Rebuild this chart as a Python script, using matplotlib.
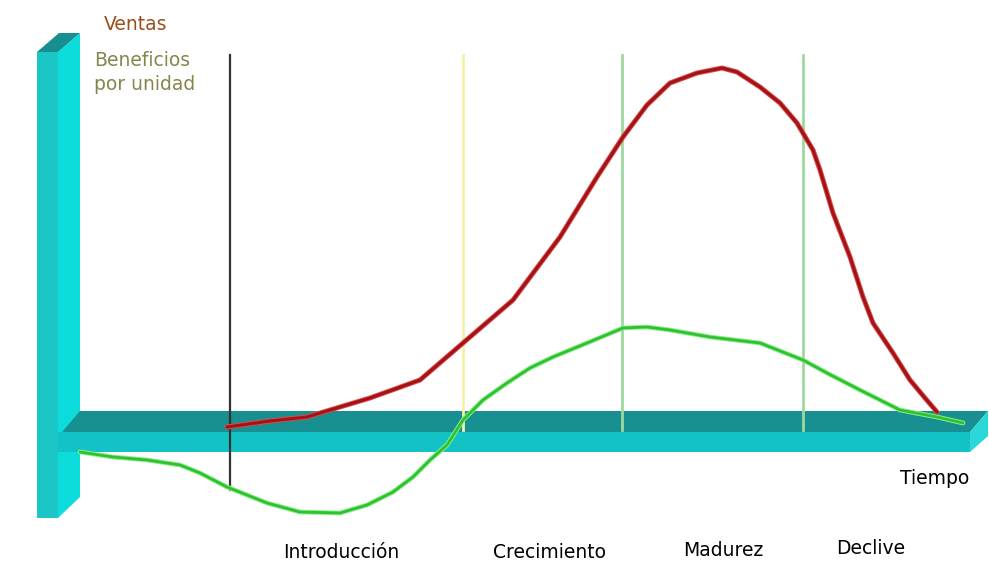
import matplotlib
matplotlib.use("Agg")
import matplotlib.pyplot as plt
from matplotlib.patches import Polygon
import matplotlib.patheffects as pe

plt.rcParams['font.family'] = ['DejaVu Sans']

# Curve data (time position, level) (screen units, y downward)
sales_t = [227, 270, 307, 330, 370, 420, 463, 513, 560, 597, 623, 647, 670, 697, 722, 737,
           760, 780, 797, 813, 820, 833, 850, 863, 873, 893, 910, 925, 937]
sales_v = [427, 421, 417, 410, 398, 380, 343, 300, 237, 177, 137, 105, 83, 73, 68, 72,
           87, 103, 123, 150, 170, 213, 257, 297, 323, 353, 380, 398, 412]

profit_t = [80, 113, 147, 180, 200, 227, 267, 300, 340, 367, 393, 413, 430, 447, 463, 483,
            507, 530, 553, 587, 623, 647, 670, 710, 760, 803, 827, 860, 900, 937, 963]
profit_v = [452, 457, 460, 465, 473, 487, 503, 512, 513, 505, 492, 477, 460, 445, 420, 400,
            383, 368, 357, 343, 328, 327, 330, 337, 343, 360, 373, 390, 410, 417, 423]

# Phase boundaries and labels
phase_bounds = [230, 463, 622, 803]
phase_colors = ['#333333', '#F2F2A8', '#9ED89E', '#9ED89E']
phase_labels = ['Introducción', 'Crecimiento', 'Madurez', 'Declive']
phase_label_x = [341, 549, 723, 871]
phase_label_y = [552, 552, 550, 548]

fig = plt.figure(figsize=(9.89, 5.72), dpi=100)
ax = fig.add_axes([0, 0, 1, 1])
ax.set_xlim(0, 989)
ax.set_ylim(572, 0)
ax.axis('off')

# Vertical 3D bar
ax.add_patch(Polygon([(37, 52), (58, 52), (58, 518), (37, 518)], closed=True,
                     facecolor='#1CC6C6', edgecolor='none', zorder=1))
ax.add_patch(Polygon([(58, 52), (80, 33), (80, 497), (58, 518)], closed=True,
                     facecolor='#0CDCDC', edgecolor='none', zorder=1))
ax.add_patch(Polygon([(37, 52), (58, 52), (80, 33), (59, 33)], closed=True,
                     facecolor='#178F8F', edgecolor='none', zorder=1))

# Horizontal 3D bar
ax.add_patch(Polygon([(62, 432), (970, 432), (988, 411), (80, 411)], closed=True,
                     facecolor='#188F91', edgecolor='none', zorder=2))
ax.add_patch(Polygon([(58, 432), (970, 432), (970, 452), (58, 452)], closed=True,
                     facecolor='#12C2C4', edgecolor='none', zorder=2))
ax.add_patch(Polygon([(970, 432), (988, 411), (988, 436), (970, 452)], closed=True,
                     facecolor='#2AD8DA', edgecolor='none', zorder=2))

# Phase boundary lines
for i, (x, c) in enumerate(zip(phase_bounds, phase_colors)):
    bottom = 490 if i == 0 else 430
    ax.plot([x, x], [55, bottom], color=c, lw=1.6 if i == 0 else 2.0, zorder=3)

# Curves
ax.plot(profit_t, profit_v, color='#30C030', lw=2.0, solid_joinstyle='round',
        solid_capstyle='round', zorder=4,
        path_effects=[pe.Stroke(linewidth=3.4, foreground='#8CF08C'), pe.Normal()])
ax.plot(sales_t, sales_v, color='#A01418', lw=2.2, solid_joinstyle='round',
        solid_capstyle='round', zorder=5,
        path_effects=[pe.Stroke(linewidth=3.6, foreground='#E04848'), pe.Normal()])

# Texts
fs = 13.5
ax.text(104, 25, 'Ventas', color='#9A4E1E', fontsize=fs, ha='left', va='center')
ax.text(94, 60, 'Beneficios', color='#86854C', fontsize=fs, ha='left', va='center')
ax.text(94, 85, 'por unidad', color='#86854C', fontsize=fs, ha='left', va='center')
ax.text(935, 479, 'Tiempo', color='black', fontsize=fs, ha='center', va='center')
for lab, x, y in zip(phase_labels, phase_label_x, phase_label_y):
    ax.text(x, y, lab, color='black', fontsize=fs, ha='center', va='center')

fig.savefig('out.png', dpi=100)
